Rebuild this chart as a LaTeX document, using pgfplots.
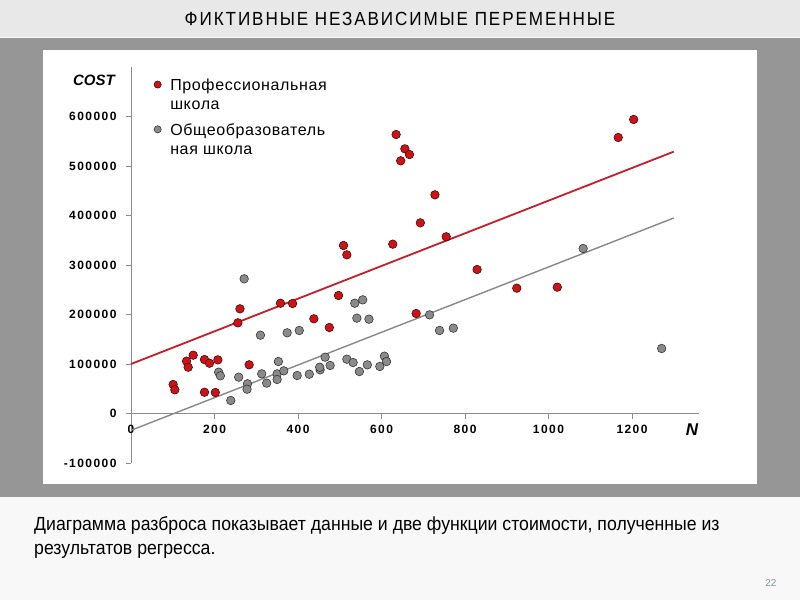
\documentclass[border=0pt]{standalone}
\usepackage{fontspec}
\setmainfont{Liberation Sans}
\newfontfamily\titlefont[FakeStretch=0.9, LetterSpace=10]{Liberation Sans}
\newfontfamily\captfont[FakeStretch=0.93]{Liberation Sans}
\newfontfamily\legfont[LetterSpace=4]{Liberation Sans}
\newfontfamily\tickfont[LetterSpace=12]{Liberation Sans}
\usepackage{pgfplots}
\pgfplotsset{compat=1.18}
\definecolor{topband}{HTML}{E8E8E8}
\definecolor{darkband}{HTML}{969696}
\definecolor{lowband}{HTML}{F8F8F8}
\definecolor{redpt}{HTML}{CC1418}
\definecolor{redline}{HTML}{C41E2A}
\definecolor{graypt}{HTML}{8A8A8A}
\definecolor{grayline}{HTML}{888888}
\definecolor{axisgray}{HTML}{8C8C8C}
\definecolor{pagenum}{HTML}{7F8FAA}
\begin{document}
\begin{tikzpicture}[x=1pt,y=1pt]
\path[use as bounding box] (0,0) rectangle (800,600);
\fill[lowband] (0,0) rectangle (800,600);
\fill[topband] (0,563) rectangle (800,600);
\fill[darkband] (0,103) rectangle (800,562);
\fill[white] (43,116) rectangle (757,550);
\node[font=\titlefont\fontsize{19}{22}\selectfont] at (400,581) {ФИКТИВНЫЕ НЕЗАВИСИМЫЕ ПЕРЕМЕННЫЕ};
\node[anchor=north west, align=left, inner sep=0pt, font=\captfont\fontsize{19}{24}\selectfont] at (34,84)
  {Диаграмма разброса показывает данные и две функции стоимости, полученные из\\результатов регресса.};
\node[anchor=east, text=pagenum, font=\fontsize{10}{12}\selectfont] at (780,17) {22};
\begin{axis}[
  at={(131pt,137pt)}, anchor=south west,
  scale only axis, width=567.8pt, height=396pt,
  xmin=0, xmax=1360, ymin=-100000, ymax=700000,
  axis x line=middle, axis y line=left,
  axis line style={-, axisgray, line width=1pt},
  hide obscured x ticks=false, hide obscured y ticks=false,
  tick style={axisgray, line width=0.8pt},
  major tick length=5pt, tick align=outside,
  xtick={0,200,400,600,800,1000,1200},
  xticklabels={0,200,400,600,800,1000,1200},
  ytick={-100000,0,100000,200000,300000,400000,500000,600000},
  yticklabels={{-100000},0,100000,200000,300000,400000,500000,600000},
  scaled x ticks=false, scaled y ticks=false,
  ticklabel style={font=\tickfont\bfseries\fontsize{12}{14}\selectfont},
  xticklabel style={yshift=-3pt},
  yticklabel style={xshift=-6pt},
  clip=false,
  legend style={at={(0.035,0.985)}, anchor=north west, draw=none, fill=none,
    font=\legfont\fontsize{16}{19}\selectfont, row sep=26pt},
  legend image post style={mark size=3.6pt},
  legend cell align=left,
]
\addplot[redline, line width=1.8pt, forget plot] coordinates {(0,100000) (1300,529000)};
\addplot[grayline, line width=1.4pt, forget plot] coordinates {(0,-34000) (1300,395000)};
\addplot[only marks, mark=*, mark size=4.3pt, mark options={fill=redpt, draw=black!80!red, line width=0.5pt}] coordinates {
(101,58600) (105,47900) (133,105700) (137,93500) (149,117800) (176,109000) (188,101600) (208,108400)
(176,43000) (202,42400) (256,183200) (261,211500) (283,98400) (358,222800) (387,222200) (438,191300)
(475,173700) (497,238400) (509,339400) (517,320600) (627,342100) (635,563600) (646,510500) (656,534700)
(667,523200) (683,202000) (693,385200) (728,441800) (755,357000) (829,290900) (924,253200) (1021,255200)
(1167,557600) (1204,594000)
};
\addlegendentry{\begin{tabular}[t]{@{\hspace{7pt}}l@{}}Профессиональная\\школа\end{tabular}}
\addplot[only marks, mark=*, mark size=4.3pt, mark options={fill=graypt, draw=black!85, line width=0.5pt}] coordinates {
(271,272100) (310,158200) (374,163000) (403,167700) (210,83500) (214,76100) (239,26300) (258,73400)
(279,60000) (278,49100) (313,80100) (325,61300) (353,105000) (350,80100) (350,68700) (366,86200)
(398,76800) (427,79400) (453,88200) (452,93500) (465,113800) (477,97000) (517,109700) (532,103000)
(547,84800) (566,98300) (596,95000) (607,115800) (612,105000) (536,222800) (555,229600) (541,192600)
(570,190600) (715,199300) (739,167700) (772,172400) (1271,131300) (1083,333300)
};
\addlegendentry{\begin{tabular}[t]{@{\hspace{7pt}}l@{}}Общеобразователь\\ная школа\end{tabular}}
\end{axis}
\node[font=\bfseries\itshape\fontsize{15}{18}\selectfont] at (94,520) {COST};
\node[font=\bfseries\itshape\fontsize{17}{20}\selectfont] at (692,170) {N};
\end{tikzpicture}
\end{document}
